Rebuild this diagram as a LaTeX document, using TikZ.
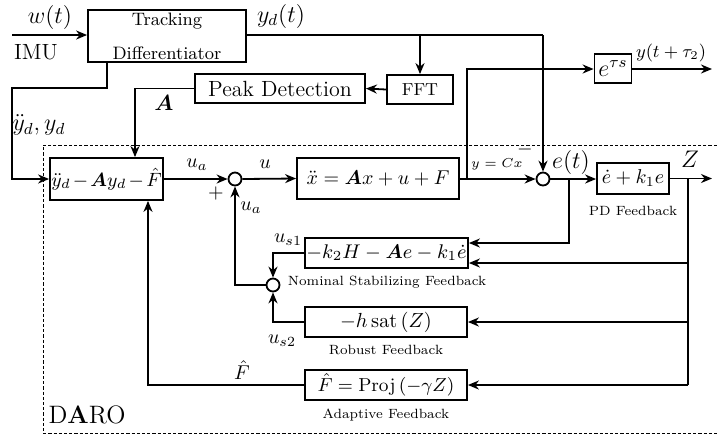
\RequirePackage{fix-cm}
\documentclass[tikz,border=0pt]{standalone}
\usepackage{amsmath,bm}
\usetikzlibrary{arrows.meta}
\begin{document}
\begin{tikzpicture}[x=0.5pt,y=-0.5pt, line width=0.9pt, >={Stealth[length=5.5pt,width=4.5pt]},
  blk/.style={draw, inner sep=0pt, align=center},
  sumnode/.style={draw, circle, minimum size=6.5pt, inner sep=0pt},
  lbl/.style={inner sep=0pt},
  fb/.style={inner sep=0pt, font=\fontsize{6.7}{8}\selectfont},
  fL/.style={font=\fontsize{12}{14}\selectfont},
  fM/.style={font=\fontsize{10}{12}\selectfont},
  fS/.style={font=\fontsize{10}{12}\selectfont},
]
\useasboundingbox (0,0) rectangle (718,436);

% DARO dashed frame
\draw[line width=0.5pt, dash pattern=on 1.6pt off 1pt] (722,145) -- (43,145) -- (43,433) -- (722,433);
\node[lbl, font=\fontsize{12.6}{14}\selectfont] (daro) at (87,415) {D\textbf{A}RO};

% blocks
\node[blk, minimum width=79pt, minimum height=26pt, font=\fontsize{9}{14}\selectfont] (td) at (167,36) {Tracking\\[3pt]Differentiator};
\node[blk, minimum width=85pt, minimum height=14.5pt, font=\fontsize{11}{13}\selectfont] (peak) at (280,88.5) {Peak Detection};
\node[blk, minimum width=33pt, minimum height=14.5pt, font=\fontsize{8.7}{10}\selectfont] (fft) at (420,89.5) {FFT};
\node[blk, minimum width=18.5pt, minimum height=14.5pt, fL] (etau) at (613,68.5) {$e^{\tau s}$};
\node[blk, minimum width=56.5pt, minimum height=21pt, font=\fontsize{9.6}{12}\selectfont] (ctrl) at (106.5,179) {$\medmuskip=2mu \ddot{y}_d - \bm{A} y_d - \hat{F}$};
\node[blk, minimum width=81pt, minimum height=20.5pt, font=\fontsize{10}{13}\selectfont] (plant) at (378,178.5) {$\ddot{x} = \bm{A}x + u + F$};
\node[blk, minimum width=36pt, minimum height=15.5pt, font=\fontsize{10}{13}\selectfont] (pd) at (633,178.5) {$\dot{e} + k_1 e$};
\node[blk, minimum width=81.5pt, minimum height=15pt, font=\fontsize{9.9}{12}\selectfont] (nom) at (386.5,253) {$-k_2 H - \bm{A} e - k_1 \dot{e}$};
\node[blk, minimum width=81pt, minimum height=15pt, font=\fontsize{10.2}{12}\selectfont] (rob) at (386,322) {$-h\,\mathrm{sat}\,(Z)$};
\node[blk, minimum width=81pt, minimum height=15pt, font=\fontsize{9.4}{12}\selectfont] (ada) at (386,385) {$\hat{F} = \mathrm{Proj}\,(-\gamma Z)$};

% summing junctions
\node[sumnode] (s1) at (235,179) {};
\node[sumnode] (s2) at (543,179) {};
\node[sumnode] (s3) at (273,285) {};

% block captions
\node[fb] (cpd) at (633,211) {PD Feedback};
\node[fb] (cnom) at (387,282) {Nominal Stabilizing Feedback};
\node[fb] (crob) at (386,350) {Robust Feedback};
\node[fb] (cada) at (386,415) {Adaptive Feedback};

% coordinates
\coordinate (imu) at (12,35);
\coordinate (tdo) at (543,35);
\coordinate (fftb) at (420,35);
\coordinate (aA) at (135,88.5);
\coordinate (tdb) at (107,62);
\coordinate (k1) at (107,88);
\coordinate (k2) at (12,88);
\coordinate (k3) at (12,179);
\coordinate (ybr) at (467,179);
\coordinate (yup) at (467,69);
\coordinate (yout) at (712,69);
\coordinate (zout) at (712,178.5);
\coordinate (ebr) at (569,179);
\coordinate (ebd) at (569,243);
\coordinate (zbr) at (688,178.5);
\coordinate (zb1) at (688,263);
\coordinate (zb2) at (688,322);
\coordinate (zb3) at (688,385);
\coordinate (ua2) at (235,285);
\coordinate (fh) at (148,385);

% connectors
\draw[->] (imu) -- (imu -| td.west);
\draw (td.east |- tdo) -- (tdo);
\draw[->] (tdo) -- (s2.north);
\draw[->] (fftb) -- (fft.north);
\draw[->] (fft.west) -- (peak.east);
\draw[->] (peak.west) -| (ctrl.north -| aA);
\draw[->] (tdb) -- (k1) -- (k2) -- (k3) -- (ctrl.west);
\draw[->] (ctrl.east) -- (s1.west);
\draw[->] (s1.east) -- (plant.west);
\draw[->] (plant.east |- s2) -- (s2.west);
\draw[->] (ybr) -- (yup) -- (etau.west |- yup);
\draw[->] (etau.east |- yout) -- (yout);
\draw[->] (s2.east) -- (pd.west |- s2);
\draw[->] (pd.east) -- (zout);
\draw[->] (ebr) -- (ebd) -- (nom.east |- ebd);
\draw (zbr) -- (zb3);
\draw[->] (zb1) -- (nom.east |- zb1);
\draw[->] (zb2) -- (rob.east |- zb2);
\draw[->] (zb3) -- (ada.east |- zb3);
\draw[->] (nom.west) -| (s3.north);
\draw[->] (rob.west) -| (s3.south);
\draw[->] (s3.west) -- (ua2) -- (s1.south);
\draw[->] (ada.west) -- (fh) -- (ctrl.south -| fh);

% labels
\node[lbl, fL] (lw) at (50,17) {$w(t)$};
\node[lbl, font=\fontsize{11}{13}\selectfont] (limu) at (36,52) {IMU};
\node[lbl, fL] (lyd) at (281,16) {$y_d(t)$};
\node[lbl, fL] (lydd) at (39,125) {$\ddot{y}_d, y_d$};
\node[lbl, font=\fontsize{11}{13}\selectfont] (lA) at (164,103) {$\bm{A}$};
\node[lbl, fS] (lua) at (197,165) {$u_a$};
\node[lbl, fS] (lplus) at (216,193) {$+$};
\node[lbl, fS] (lu) at (265,164) {$u$};
\node[lbl, fS] (lua2) at (251,208) {$u_a$};
\node[lbl, font=\fontsize{6.5}{8}\selectfont] (lyc) at (497,164) {$y = Cx$};
\node[lbl, fS] (lminus) at (525,149) {$-$};
\node[lbl, fL] (let) at (571,162) {$e(t)$};
\node[lbl, fL] (lz) at (690,159) {$Z$};
\node[lbl, font=\fontsize{9}{11}\selectfont] (lyt) at (671,53) {$y(t+\tau_2)$};
\node[lbl, fS] (lus1) at (288,240) {$u_{s1}$};
\node[lbl, fS] (lus2) at (282,341) {$u_{s2}$};
\node[lbl, fS] (lfh) at (242,370) {$\hat{F}$};
\end{tikzpicture}
\end{document}
